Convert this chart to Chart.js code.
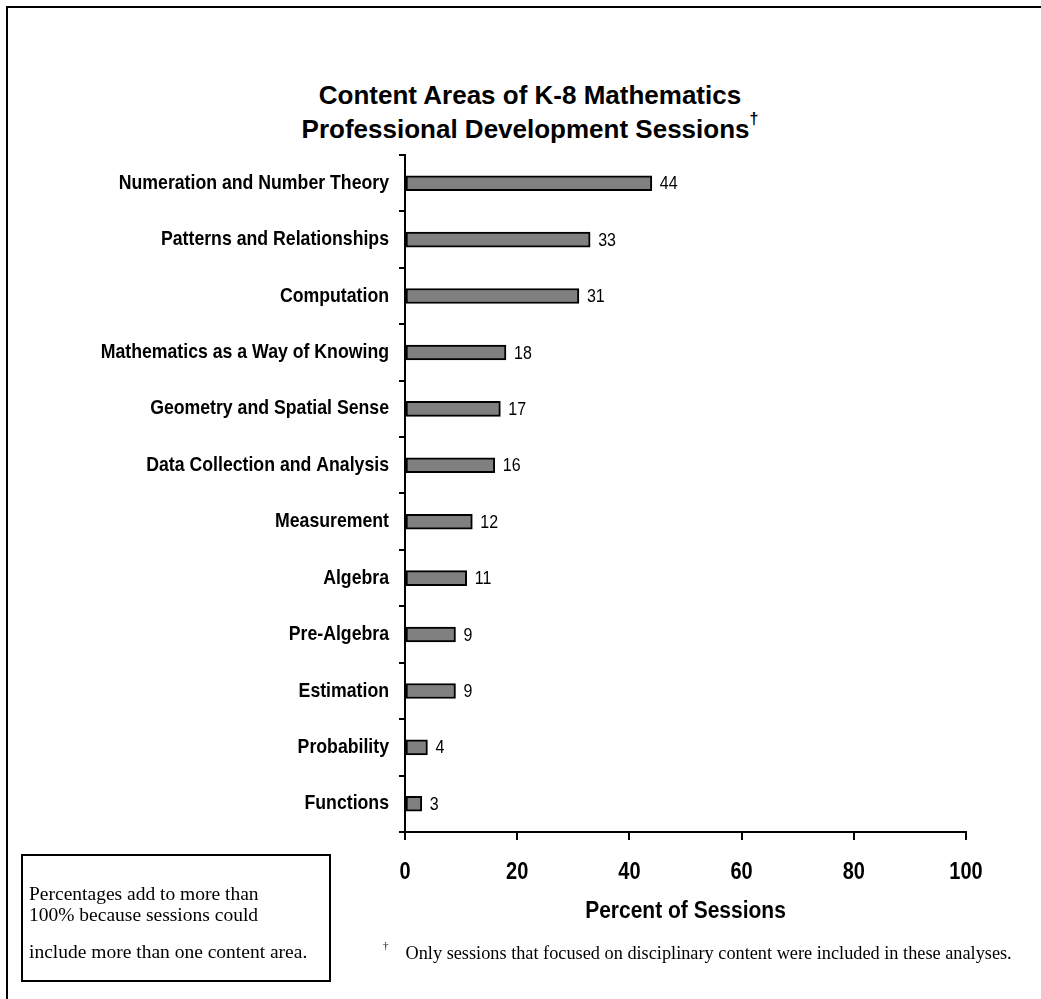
<!DOCTYPE html>
<html>
<head>
<meta charset="utf-8">
<script src="https://cdn.jsdelivr.net/npm/chart.js@4.4.1/dist/chart.umd.min.js"></script>
<style>
  html, body { margin: 0; padding: 0; background: #fff; }
  #page { position: relative; width: 1041px; height: 999px; overflow: hidden; }
  #frame {
    position: absolute; left: 6px; top: 6px; width: 1100px; height: 1100px;
    border-left: 2px solid #000; border-top: 2px solid #000;
  }
  #chart-wrap { position: absolute; left: 0; top: 0; width: 1041px; height: 999px; }
  .title {
    position: absolute; left: 0; width: 1060px; text-align: center;
    font: bold 26px "Liberation Sans", Arial, sans-serif; color: #000;
  }
  .title sup { font-size: 16px; position: relative; top: -4px; }
  #note {
    position: absolute; left: 21px; top: 854px; width: 306px; height: 124px;
    border: 2px solid #000; font: 19.5px "Liberation Serif", "Times New Roman", serif;
  }
  #note div { position: absolute; left: 6px; white-space: nowrap; }
  #footnote {
    position: absolute; left: 383px; top: 942px; white-space: nowrap;
    font: 18.3px "Liberation Serif", "Times New Roman", serif;
  }
  #footnote sup { font-size: 11px; position: relative; top: -3px; margin-right: 17px; }
</style>
</head>
<body>
<div id="page">
  <div id="frame"></div>
  <div class="title" style="top: 80px;">Content Areas of K-8 Mathematics</div>
  <div class="title" style="top: 114px;">Professional Development Sessions<sup>&dagger;</sup></div>
  <div id="chart-wrap"><canvas id="chart" width="1041" height="999"></canvas></div>
  <div id="note">
    <div style="top: 27px;">Percentages add to more than</div>
    <div style="top: 48px;">100% because sessions could</div>
    <div style="top: 85px;">include more than one content area.</div>
  </div>
  <div id="footnote"><sup>&dagger;</sup>Only sessions that focused on disciplinary content were included in these analyses.</div>
</div>
<script>
  var categories = [
    'Numeration and Number Theory',
    'Patterns and Relationships',
    'Computation',
    'Mathematics as a Way of Knowing',
    'Geometry and Spatial Sense',
    'Data Collection and Analysis',
    'Measurement',
    'Algebra',
    'Pre-Algebra',
    'Estimation',
    'Probability',
    'Functions'
  ];
  var percentOfSessions = [44, 33, 31, 18, 17, 16, 12, 11, 9, 9, 4, 3];
  var xTicks = [0, 20, 40, 60, 80, 100];

  var PLOT_LEFT = 405;
  var PLOT_RIGHT = 966;
  var PLOT_TOP = 155;
  var PLOT_BOTTOM = 832;
  var X_SCALE_BOTTOM = 924;
  var WIDTH = 1041;
  var HEIGHT = 999;
  var FONT = '"Liberation Sans", Arial, sans-serif';
  var TEXT_STRETCH = 1.15;

  // glyphs in this chart are set a little taller than the font's natural shape
  function stretchText(ctx, factor) {
    var fillText = ctx.fillText;
    ctx.fillText = function (text, x, y, maxWidth) {
      this.save();
      this.translate(x, y);
      this.scale(1, factor);
      fillText.call(this, text, 0, 0, maxWidth);
      this.restore();
    };
  }

  // value printed just past the end of each bar
  var barValueLabels = {
    id: 'barValueLabels',
    afterDatasetsDraw: function (chart) {
      var ctx = chart.ctx;
      var meta = chart.getDatasetMeta(0);
      ctx.save();
      ctx.fillStyle = '#000';
      ctx.font = '16px ' + FONT;
      ctx.textAlign = 'left';
      ctx.textBaseline = 'middle';
      meta.data.forEach(function (bar, i) {
        ctx.fillText(String(percentOfSessions[i]), bar.x + 8, bar.y + 1);
      });
      ctx.restore();
    }
  };

  var ctx = document.getElementById('chart').getContext('2d');
  stretchText(ctx, TEXT_STRETCH);

  new Chart(ctx, {
    type: 'bar',
    data: {
      labels: categories,
      datasets: [{
        data: percentOfSessions,
        backgroundColor: '#808080',
        borderColor: '#000',
        borderWidth: 2,
        borderSkipped: false,
        barThickness: 15
      }]
    },
    options: {
      indexAxis: 'y',
      responsive: false,
      animation: false,
      devicePixelRatio: 1,
      layout: {
        padding: { left: 0, right: WIDTH - PLOT_RIGHT, top: PLOT_TOP, bottom: HEIGHT - X_SCALE_BOTTOM }
      },
      plugins: {
        legend: { display: false },
        tooltip: { enabled: false }
      },
      scales: {
        x: {
          min: 0,
          max: 100,
          afterBuildTicks: function (scale) {
            scale.ticks = xTicks.map(function (v) { return { value: v }; });
          },
          afterFit: function (scale) {
            scale.height = X_SCALE_BOTTOM - PLOT_BOTTOM;
          },
          border: { color: '#000', width: 2 },
          grid: { drawOnChartArea: false, color: '#000', lineWidth: 2, tickLength: 8 },
          ticks: {
            color: '#000',
            padding: 21,
            maxRotation: 0,
            font: { family: FONT, size: 20, weight: 'bold' }
          },
          title: {
            display: true,
            text: 'Percent of Sessions',
            color: '#000',
            padding: 0,
            font: { family: FONT, size: 21, weight: 'bold' }
          }
        },
        y: {
          afterFit: function (scale) {
            scale.width = PLOT_LEFT;
          },
          border: { color: '#000', width: 2 },
          grid: { drawOnChartArea: false, color: '#000', lineWidth: 2, tickLength: 6, offset: true },
          ticks: {
            color: '#000',
            padding: 10,
            font: { family: FONT, size: 17.7, weight: 'bold' }
          }
        }
      }
    },
    plugins: [barValueLabels]
  });
</script>
</body>
</html>
